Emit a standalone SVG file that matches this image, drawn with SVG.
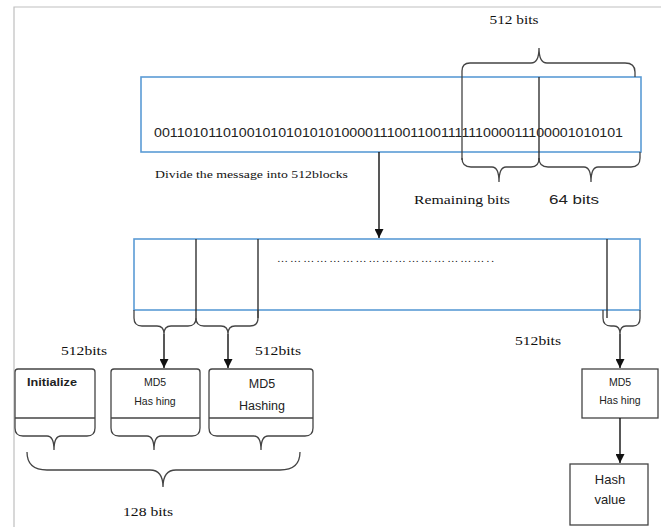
<svg xmlns="http://www.w3.org/2000/svg" width="661" height="527" viewBox="0 0 661 527">
  <defs>
    <marker id="arrow" viewBox="0 0 10 10" refX="10" refY="5" markerWidth="9" markerHeight="9" markerUnits="userSpaceOnUse" orient="auto">
      <path d="M0,0 L10,5 L0,10 Z" fill="#111"/>
    </marker>
  </defs>
  <style>
    .frame { fill: none; stroke: #bfbfbf; stroke-width: 1.2; }
    .band { fill: #fff; stroke: #5b9bd5; stroke-width: 1.6; }
    .brace { fill: none; stroke: #444; stroke-width: 1.3; }
    .divider { stroke: #333; stroke-width: 1.4; }
    .box { fill: #fff; stroke: #444; stroke-width: 1.3; }
    .link { stroke: #111; stroke-width: 1.4; fill: none; }
    .serif { font-family: "Liberation Serif", "Times New Roman", serif; fill: #111; }
    .sans { font-family: "Liberation Sans", Arial, sans-serif; fill: #222; }
  </style>

  <rect width="661" height="527" fill="#fff"/>
  <!-- page frame -->
  <path class="frame" d="M14,527 L14,7 L661,7"/>

  <!-- full message band -->
  <g id="message">
    <rect class="band" x="141" y="77" width="500" height="75"/>
    <text class="sans" x="154" y="137" font-size="13.5" textLength="469" lengthAdjust="spacingAndGlyphs">0011010110100101010101010000111001100111111000011100001010101</text>
    <line class="divider" x1="539" y1="77" x2="539" y2="160"/>
  </g>

  <!-- braces around the last block -->
  <g id="block-braces">
    <path class="brace" d="M462,160 L462,71 Q462,63 470,63 L531,63 Q539,63 539,48 Q539,63 547,63 L625,63 Q635,63 635,72 L635,77"/>
    <path class="brace" d="M462,158 Q462,167 471,167 L492,167 Q499,167 499,182 Q499,167 506,167 L531,167 Q539,167 539,158"/>
    <path class="brace" d="M539,158 Q539,167 548,167 L584,167 Q591,167 591,182 Q591,167 598,167 L631,167 Q640,167 640,158 L640,152"/>
    <text class="serif" x="514" y="24" font-size="12.5" text-anchor="middle" textLength="49" lengthAdjust="spacingAndGlyphs">512 bits</text>
    <text class="serif" x="462" y="204" font-size="13" text-anchor="middle" textLength="96" lengthAdjust="spacingAndGlyphs">Remaining bits</text>
    <text class="sans" x="574" y="204" font-size="13.5" text-anchor="middle" textLength="50" lengthAdjust="spacingAndGlyphs">64 bits</text>
  </g>

  <text class="serif" x="155" y="178" font-size="10.5" textLength="193" lengthAdjust="spacingAndGlyphs">Divide the message into 512blocks</text>

  <!-- message split into 512-bit blocks -->
  <g id="blocks">
    <rect class="band" x="134" y="239" width="506" height="71"/>
    <line class="divider" x1="196" y1="239" x2="196" y2="318"/>
    <line class="divider" x1="258" y1="239" x2="258" y2="318"/>
    <line class="divider" x1="607" y1="239" x2="607" y2="318"/>
    <text class="serif" x="277" y="262" font-size="11" textLength="217" lengthAdjust="spacing">…………………………………………..</text>
    <path class="brace" d="M134,310 L134,318 Q134,326 142,326 L157,326 Q164,326 164,334 Q164,326 171,326 L188,326 Q196,326 196,318"/>
    <path class="brace" d="M196,318 Q196,326 204,326 L221,326 Q228,326 228,334 Q228,326 235,326 L250,326 Q258,326 258,318 L258,310"/>
    <path class="brace" d="M603,310 L603,318 Q603,326 611,326 L614,326 Q620,326 620,334 Q620,326 626,326 L633,326 Q640,326 640,318 L640,310"/>
    <text class="serif" x="84" y="355" font-size="12.5" text-anchor="middle" textLength="46" lengthAdjust="spacingAndGlyphs">512bits</text>
    <text class="serif" x="278" y="355" font-size="12.5" text-anchor="middle" textLength="46" lengthAdjust="spacingAndGlyphs">512bits</text>
    <text class="serif" x="538" y="345" font-size="12.5" text-anchor="middle" textLength="46" lengthAdjust="spacingAndGlyphs">512bits</text>
  </g>

  <!-- processing stages -->
  <g id="initialize">
    <path class="box" d="M15,418 L15,372 Q15,369 18,369 L92,369 Q95,369 95,372 L95,418 L95,428 Q95,436 87,436 L61,436 Q54,436 54,450 Q54,436 47,436 L23,436 Q15,436 15,428 Z"/>
    <line class="brace" x1="15" y1="418" x2="95" y2="418"/>
    <text class="sans" x="52" y="386" font-size="10" font-weight="bold" text-anchor="middle" textLength="50" lengthAdjust="spacingAndGlyphs">Initialize</text>
  </g>

  <g id="md5-first">
    <path class="box" d="M111,418 L111,372 Q111,369 114,369 L197,369 Q200,369 200,372 L200,418 L200,428 Q200,436 192,436 L161,436 Q154,436 154,450 Q154,436 147,436 L119,436 Q111,436 111,428 Z"/>
    <line class="brace" x1="111" y1="418" x2="200" y2="418"/>
    <text class="sans" x="155" y="386" font-size="10.5" text-anchor="middle">MD5</text>
    <text class="sans" x="155" y="405" font-size="10.5" text-anchor="middle">Has hing</text>
  </g>

  <g id="md5-second">
    <path class="box" d="M209,418 L209,372 Q209,369 212,369 L310,369 Q313,369 313,372 L313,418 L313,428 Q313,436 305,436 L268,436 Q261,436 261,450 Q261,436 254,436 L217,436 Q209,436 209,428 Z"/>
    <line class="brace" x1="209" y1="418" x2="313" y2="418"/>
    <text class="sans" x="262" y="388" font-size="12.5" text-anchor="middle">MD5</text>
    <text class="sans" x="262" y="410" font-size="12.5" text-anchor="middle">Hashing</text>
  </g>

  <g id="md5-last">
    <rect class="box" x="582" y="369" width="76" height="49"/>
    <text class="sans" x="620" y="386" font-size="10.5" text-anchor="middle">MD5</text>
    <text class="sans" x="620" y="404" font-size="10.5" text-anchor="middle">Has hing</text>
  </g>

  <g id="hash-value">
    <rect class="box" x="570" y="464" width="78" height="61"/>
    <text class="sans" x="610" y="484" font-size="13" text-anchor="middle">Hash</text>
    <text class="sans" x="610" y="504" font-size="13" text-anchor="middle">value</text>
  </g>

  <!-- combined state brace -->
  <g id="state">
    <path class="brace" d="M27,452 Q27,470 47,470 L150,470 Q163,470 163,487 Q163,470 176,470 L280,470 Q300,470 300,452"/>
    <text class="serif" x="148" y="516" font-size="12.5" text-anchor="middle" textLength="50" lengthAdjust="spacingAndGlyphs">128 bits</text>
  </g>

  <!-- connectors -->
  <g id="connectors">
    <line class="link" x1="379" y1="152" x2="379" y2="238" marker-end="url(#arrow)"/>
    <line class="link" x1="164" y1="334" x2="164" y2="368" marker-end="url(#arrow)"/>
    <line class="link" x1="228" y1="334" x2="228" y2="368" marker-end="url(#arrow)"/>
    <line class="link" x1="620" y1="334" x2="620" y2="368" marker-end="url(#arrow)"/>
    <line class="link" x1="620" y1="418" x2="620" y2="463" marker-end="url(#arrow)"/>
  </g>
</svg>
